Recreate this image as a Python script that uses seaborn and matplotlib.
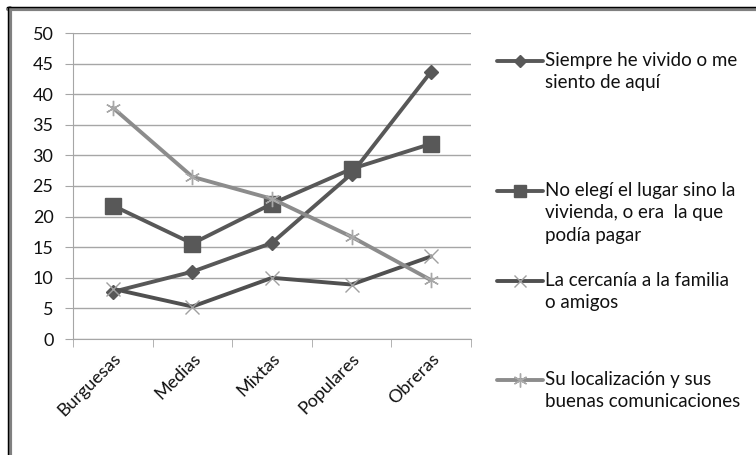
import pandas as pd
import seaborn as sns
import matplotlib.pyplot as plt
from matplotlib.lines import Line2D

# datos
barrios = ["Burguesas", "Medias", "Mixtas", "Populares", "Obreras"]
siempre = [7.7, 11.0, 15.7, 27.0, 43.7]
no_elegi = [21.8, 15.6, 22.1, 27.8, 31.9]
cercania = [8.2, 5.3, 10.0, 8.9, 13.5]
localizacion = [37.8, 26.5, 22.9, 16.7, 9.6]

etiquetas = [
    "Siempre he vivido o me\nsiento de aquí",
    "No elegí el lugar sino la\nvivienda, o era  la que\npodía pagar",
    "La cercanía a la familia\no amigos",
    "Su localización y sus\nbuenas comunicaciones",
]

sns.set_style("white")
plt.rcParams["font.family"] = ["Lato", "DejaVu Sans"]

estilos = [
    dict(color="#585858", marker="D", markersize=7, mfc="#585858", mec="#585858", mew=1),
    dict(color="#585858", marker="s", markersize=11, mfc="#585858", mec="#585858", mew=1),
    dict(color="#505050", marker="x", markersize=10, mfc="#a0a0a0", mec="#a0a0a0", mew=1),
    dict(color="#8c8c8c", marker=(6, 2, 0), markersize=11, mfc="#a8a8a8", mec="#a8a8a8", mew=1),
]
tam_leyenda = [6, 8, 9, 10]

fig = plt.figure(figsize=(7.56, 4.55), dpi=100)
ax = fig.add_axes([73 / 756, 1 - 339 / 455, 398 / 756, 306 / 455])

series = [siempre, no_elegi, cercania, localizacion]
for vals, st in zip(series, estilos):
    df = pd.DataFrame({"barrio": barrios, "valor": vals})
    sns.lineplot(data=df, x="barrio", y="valor", ax=ax, linewidth=2.8, **st)

ax.set_xlim(-0.5, 4.5)
ax.set_ylim(0, 50)
ax.set_yticks(range(0, 51, 5))
ax.set_xlabel("")
ax.set_ylabel("")
ax.yaxis.grid(True, color="#a6a6a6", linewidth=1)
ax.set_axisbelow(True)
for s in ["top", "right"]:
    ax.spines[s].set_visible(False)
ax.spines["left"].set_color("#a6a6a6")
ax.spines["bottom"].set_color("#a6a6a6")
ax.tick_params(axis="y", length=6, color="#a6a6a6", labelsize=13, pad=8, left=True)
ax.set_xticks(range(len(barrios)))
ax.set_xticklabels(barrios, rotation=45, ha="right", rotation_mode="anchor", fontsize=13)
ax.tick_params(axis="x", length=0, pad=8)
ax.set_xticks([i - 0.5 for i in range(len(barrios) + 1)], minor=True)
ax.tick_params(axis="x", which="minor", length=6, color="#a6a6a6", bottom=True)
for t in ax.get_yticklabels() + ax.get_xticklabels():
    t.set_color("#111111")

# leyenda
ys = [52, 182, 272, 371]
for lab, st, y, ms in zip(etiquetas, estilos, ys, tam_leyenda):
    st = dict(st, markersize=ms)
    hy = 1 - (y + 9) / 455
    fig.add_artist(Line2D([497 / 756, 543 / 756], [hy, hy], color=st["color"], linewidth=2.8,
                          transform=fig.transFigure))
    fig.add_artist(Line2D([520 / 756], [hy], transform=fig.transFigure, linestyle="none", **st))
    fig.text(545 / 756, 1 - y / 455, lab, fontsize=13.5, va="top", ha="left", color="#111111",
             linespacing=1.38, transform=fig.transFigure)

# marco
fig.add_artist(Line2D([8 / 756, 1], [1 - 9 / 455] * 2, color="#808080", linewidth=3, transform=fig.transFigure))
fig.add_artist(Line2D([10 / 756] * 2, [0, 1 - 8 / 455], color="#808080", linewidth=3, transform=fig.transFigure))
fig.add_artist(Line2D([7 / 756, 1], [1 - 7 / 455] * 2, color="#000000", linewidth=1, transform=fig.transFigure))
fig.add_artist(Line2D([7.5 / 756] * 2, [0, 1 - 7 / 455], color="#000000", linewidth=1, transform=fig.transFigure))

fig.savefig("out.png", dpi=100)
